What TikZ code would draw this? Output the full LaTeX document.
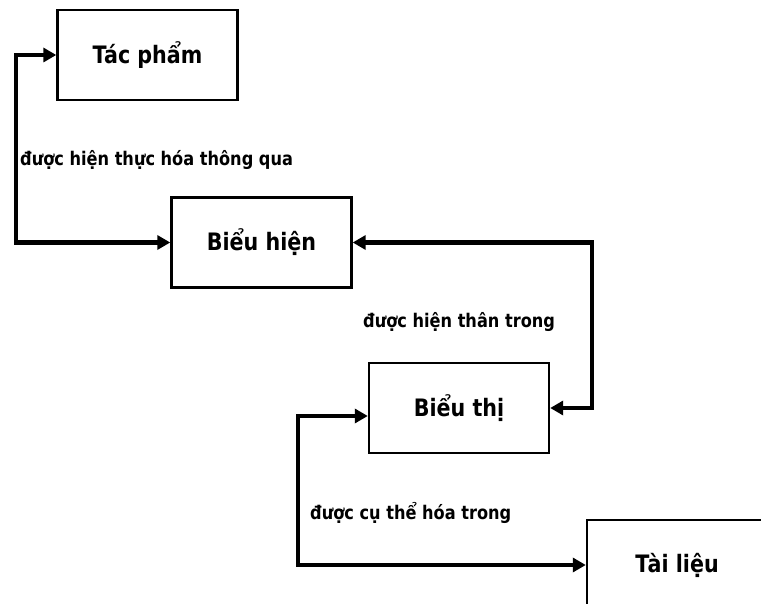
\documentclass[tikz,border=0pt]{standalone}
\usepackage{fontspec}
\setmainfont{DejaVu Sans}[FakeStretch=0.86]
\usetikzlibrary{arrows.meta}

\begin{document}
\begin{tikzpicture}[x=1pt,y=-1pt,
    >={Triangle[length=13pt,width=14pt]},
    kasten/.style={rectangle,draw=black,line width=2.4pt,minimum width=180pt,
      minimum height=90pt,inner sep=0pt,font=\bfseries\fontsize{24}{28}\selectfont},
    beschr/.style={anchor=west,inner sep=0pt,font=\bfseries\fontsize{18.8}{22}\selectfont}]
\useasboundingbox (0,0) rectangle (761,604);
\clip (0,0) rectangle (761,604);

\node[kasten] (tac) at (147.5,55){Tác phẩm};
\node[kasten] (bhien) at (261.5,242.5){Biểu hiện};
\node[kasten] (bthi) at (459,408){Biểu thị};
\node[kasten] (tlieu) at (677,565){Tài liệu};

\node[beschr] (b1) at (20,160){được hiện thực hóa thông qua};
\node[beschr] (b2) at (363,322){được hiện thân trong};
\node[beschr] (b3) at (310,513){được cụ thể hóa trong};

\coordinate (k1) at (16,150);
\coordinate (k2) at (592,320);
\coordinate (k3) at (298,480);

\draw[<->,line width=4.5pt](tac.west) -| (k1) |- (bhien.west);
\draw[<->,line width=4.5pt](bhien.east) -| (k2) |- (bthi.east);
\draw[<->,line width=4.5pt]([yshift=-8pt]bthi.west) -| (k3) |- (tlieu.west);
\end{tikzpicture}
\end{document}
